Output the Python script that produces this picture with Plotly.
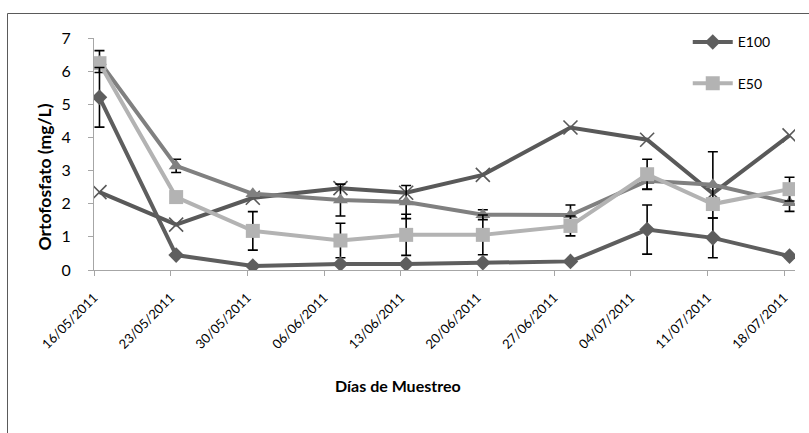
import datetime as dt
import plotly.graph_objects as go

# Sampling dates (dd/mm/yyyy)
fechas = ["16/05/2011", "23/05/2011", "30/05/2011", "07/06/2011", "13/06/2011",
          "20/06/2011", "28/06/2011", "05/07/2011", "11/07/2011", "18/07/2011"]

# Axis tick labels (weekly)
ticks = ["16/05/2011", "23/05/2011", "30/05/2011", "06/06/2011", "13/06/2011",
         "20/06/2011", "27/06/2011", "04/07/2011", "11/07/2011", "18/07/2011"]

# Orthophosphate concentrations (mg/L) and their deviations
e100 = [5.21, 0.45, 0.12, 0.18, 0.18, 0.22, 0.26, 1.22, 0.97, 0.42]
e100_err = [0.90, 0.0, 0.0, 0.0, 0.0, 0.0, 0.0, 0.74, 0.60, 0.0]

e50 = [6.24, 2.20, 1.18, 0.89, 1.06, 1.06, 1.33, 2.89, 1.99, 2.44]
e50_err = [0.0, 0.0, 0.58, 0.52, 0.62, 0.60, 0.30, 0.45, 0.0, 0.36]

serie3 = [6.29, 3.14, 2.30, 2.11, 2.05, 1.67, 1.66, 2.69, 2.57, 2.03]
serie3_err = [0.33, 0.20, 0.0, 0.48, 0.50, 0.15, 0.30, 0.26, 1.00, 0.26]

serie4 = [2.35, 1.37, 2.18, 2.47, 2.33, 2.87, 4.30, 3.93, 2.31, 4.06]


def parse(d):
    return dt.datetime.strptime(d, "%d/%m/%Y")


# points sit in the middle of their day, as on a day-based date axis
x = [(parse(d) + dt.timedelta(hours=12)).strftime("%Y-%m-%d %H:%M") for d in fechas]
tickvals = [parse(d).strftime("%Y-%m-%d") for d in ticks]

FONT = "Lato, 'Open Sans', sans-serif"

fig = go.Figure()


def err(vals, color="black"):
    return dict(type="data", array=vals, visible=True, color=color,
                thickness=1.6, width=5)


fig.add_trace(go.Scatter(
    x=x, y=serie4, name="Serie 4", mode="lines+markers", showlegend=False,
    line=dict(color="#595959", width=4),
    marker=dict(symbol="x-thin-open", size=14, line=dict(color="#595959", width=1.6)),
))
fig.add_trace(go.Scatter(
    x=x, y=serie3, name="Serie 3", mode="lines+markers", showlegend=False,
    line=dict(color="#808080", width=4),
    marker=dict(symbol="triangle-up", size=13, color="#808080"),
    error_y=err(serie3_err),
))
fig.add_trace(go.Scatter(
    x=x, y=e50, name="E50", mode="lines+markers", legendrank=2, legendgroup="e50",
    line=dict(color="#b3b3b3", width=4),
    marker=dict(symbol="square", size=14, color="#b3b3b3"),
    error_y=err(e50_err),
))
fig.add_trace(go.Scatter(
    x=x, y=e100, name="E100", mode="lines+markers", legendrank=1, legendgroup="e100",
    line=dict(color="#5e5e5e", width=4),
    marker=dict(symbol="diamond", size=12, color="#5e5e5e"),
    error_y=err(e100_err),
))

fig.update_layout(
    width=809, height=433,
    margin=dict(l=94, r=14, t=38, b=163),
    paper_bgcolor="white", plot_bgcolor="white",
    font=dict(family=FONT, color="black"),
    showlegend=True,
    legend=dict(x=0.847, y=1.05, xanchor="left", yanchor="top",
                font=dict(size=14, family=FONT), tracegroupgap=20,
                bgcolor="rgba(0,0,0,0)", itemwidth=40),
    xaxis=dict(type="date", range=["2011-05-16", "2011-07-19"],
               tickmode="array", tickvals=tickvals, ticktext=ticks,
               tickangle=-45, tickfont=dict(size=13), ticklabelstandoff=9,
               showgrid=False, zeroline=False,
               showline=True, linecolor="#a6a6a6", linewidth=1,
               ticks="outside", ticklen=5, tickcolor="#a6a6a6"),
    yaxis=dict(range=[0, 7], dtick=1, tickfont=dict(size=16), ticklabelstandoff=14,
               showgrid=False, zeroline=False,
               showline=True, linecolor="#a6a6a6", linewidth=1,
               ticks="outside", ticklen=5, tickcolor="#a6a6a6"),
    annotations=[
        dict(text="<b>Ortofosfato (mg/L)</b>", xref="paper", yref="paper",
             x=(43.5 - 94) / 701, y=(270 - 177) / 232, textangle=-90,
             xanchor="center", yanchor="middle",
             showarrow=False, font=dict(size=17.5)),
        dict(text="<b>Días de Muestreo</b>", xref="paper", yref="paper",
             x=(398 - 94) / 701, y=(270 - 385) / 232,
             xanchor="center", yanchor="middle",
             showarrow=False, font=dict(size=16)),
    ],
    shapes=[
        dict(type="line", xref="paper", yref="paper",
             x0=(7.5 - 94) / 701, x1=(7.5 - 94) / 701,
             y0=(270 - 13.5) / 232, y1=(270 - 440) / 232,
             line=dict(color="#5a5a5a", width=1)),
        dict(type="line", xref="paper", yref="paper",
             x0=(7.5 - 94) / 701, x1=(815 - 94) / 701,
             y0=(270 - 13.5) / 232, y1=(270 - 13.5) / 232,
             line=dict(color="#5a5a5a", width=1)),
    ],
)

fig.write_html("out.html")
